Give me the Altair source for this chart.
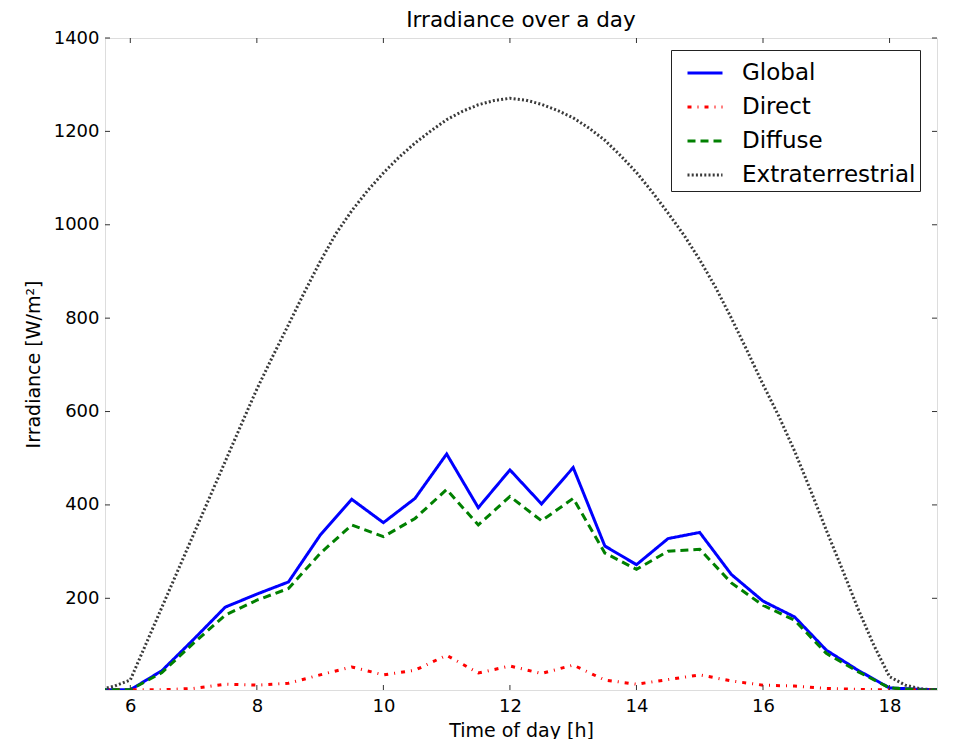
import altair as alt
import pandas as pd

# ---------------- data ----------------
hours_half = [5.5, 6.0, 6.5, 7.0, 7.5, 8.0, 8.5, 9.0, 9.5, 10.0, 10.5, 11.0, 11.5, 12.0,
              12.5, 13.0, 13.5, 14.0, 14.5, 15.0, 15.5, 16.0, 16.5, 17.0, 17.5, 18.0, 18.5, 19.0]

global_vals = [4, 4, 45, 112, 181, 209, 235, 335, 412, 362, 414, 509, 394, 475,
               402, 480, 312, 272, 328, 341, 251, 194, 160, 89, 46, 8, 5, 4]

direct_vals = [4, 4, 4, 7, 16, 14, 18, 36, 53, 36, 46, 78, 40, 55,
               39, 57, 25, 16, 26, 36, 23, 14, 12, 7, 5, 4, 4, 4]

diffuse_vals = [4, 4, 41, 104, 164, 196, 221, 296, 357, 332, 371, 433, 357, 418,
                366, 414, 297, 262, 301, 305, 233, 185, 153, 82, 43, 8, 4, 4]

hours_quarter = [5.5, 5.75, 6.0, 6.25, 6.5, 6.75, 7.0, 7.25, 7.5, 7.75, 8.0, 8.25, 8.5, 8.75,
                 9.0, 9.25, 9.5, 9.75, 10.0, 10.25, 10.5, 10.75, 11.0, 11.25, 11.5, 11.75,
                 12.0, 12.25, 12.5, 12.75, 13.0, 13.25, 13.5, 13.75, 14.0, 14.25, 14.5, 14.75,
                 15.0, 15.25, 15.5, 15.75, 16.0, 16.25, 16.5, 16.75, 17.0, 17.25, 17.5, 17.75,
                 18.0, 18.25, 18.5, 18.75, 19.0]

extra_vals = [4, 12, 25, 103, 181, 259, 337, 415, 493, 571, 648, 718, 786, 855,
              921, 981, 1030, 1073, 1111, 1145, 1175, 1201, 1225, 1243, 1257, 1266,
              1271, 1267, 1258, 1245, 1229, 1207, 1181, 1148, 1112, 1070, 1025, 978,
              925, 866, 800, 730, 658, 590, 515, 432, 346, 263, 178, 100,
              32, 14, 6, 4, 4]

series_names = ["Global", "Direct", "Diffuse", "Extraterrestrial"]
series_colors = ["#0000ff", "#ff0000", "#008000", "#3a3a3a"]
series_dashes = [[1, 0], [4, 6, 1, 6], [8, 5], [2, 2.2]]
series_widths = [3, 3, 3, 2.5]

x_ticks = [6, 8, 10, 12, 14, 16, 18]
y_ticks = [200, 400, 600, 800, 1000, 1200, 1400]

# ---------------- build table ----------------
rows = []
for h, v in zip(hours_half, global_vals):
    rows.append({"hour": h, "value": v, "series": "Global"})
for h, v in zip(hours_half, direct_vals):
    rows.append({"hour": h, "value": v, "series": "Direct"})
for h, v in zip(hours_half, diffuse_vals):
    rows.append({"hour": h, "value": v, "series": "Diffuse"})
for h, v in zip(hours_quarter, extra_vals):
    rows.append({"hour": h, "value": v, "series": "Extraterrestrial"})
df = pd.DataFrame(rows)

W, H = 832, 652
FONT = "DejaVu Sans"

xscale = alt.Scale(domain=[5.6, 18.75], nice=False, zero=False)
yscale = alt.Scale(domain=[3.6, 1400], nice=False, zero=False)

legend = alt.Legend(
    orient="none", legendX=566, legendY=12, title=None,
    symbolType="stroke", symbolSize=1225, symbolStrokeWidth=3,
    labelFontSize=23, labelFont=FONT, labelColor="#000000", labelOffset=18,
    labelLimit=400,
    symbolOffset=11, padding=4, rowPadding=3,
    strokeColor="#222222", fillColor="#ffffff", cornerRadius=0,
)

color_enc = alt.Color("series:N", scale=alt.Scale(domain=series_names, range=series_colors),
                      legend=legend)
dash_enc = alt.StrokeDash("series:N", scale=alt.Scale(domain=series_names, range=series_dashes),
                          legend=legend)
width_enc = alt.StrokeWidth("series:N", scale=alt.Scale(domain=series_names, range=series_widths),
                            legend=None)

x_enc = alt.X("hour:Q", scale=xscale,
              axis=alt.Axis(values=x_ticks, format="d", tickSize=0, domain=False, grid=False,
                            labelFontSize=18, labelFont=FONT, labelColor="#000000", labelPadding=7,
                            title="Time of day [h]", titleFont=FONT, titleFontSize=19,
                            titleFontWeight="normal", titleColor="#000000", titlePadding=6))
y_enc = alt.Y("value:Q", scale=yscale,
              axis=alt.Axis(values=y_ticks, format="d", tickSize=0, domain=False, grid=False,
                            labelFontSize=18, labelFont=FONT, labelColor="#000000", labelPadding=6,
                            title="Irradiance [W/m²]", titleFont=FONT, titleFontSize=19,
                            titleFontWeight="normal", titleColor="#000000", titlePadding=10))

base = alt.Chart(df)
layers = []
for name in series_names:
    layers.append(
        base.transform_filter(alt.datum.series == name)
        .mark_line(clip=True, strokeCap="butt", strokeJoin="miter")
        .encode(x=x_enc, y=y_enc, color=color_enc, strokeDash=dash_enc, strokeWidth=width_enc)
    )

# inward ticks on all four sides
xt = pd.DataFrame({"t": x_ticks})
yt = pd.DataFrame({"t": y_ticks})
tick_color = "#333333"
bottom_ticks = alt.Chart(xt).mark_rule(color=tick_color, strokeWidth=1).encode(
    x=alt.X("t:Q", scale=xscale), y=alt.value(H), y2=alt.value(H - 5))
top_ticks = alt.Chart(xt).mark_rule(color=tick_color, strokeWidth=1).encode(
    x=alt.X("t:Q", scale=xscale), y=alt.value(0), y2=alt.value(5))
left_ticks = alt.Chart(yt).mark_rule(color=tick_color, strokeWidth=1).encode(
    y=alt.Y("t:Q", scale=yscale), x=alt.value(0), x2=alt.value(5))
right_ticks = alt.Chart(yt).mark_rule(color=tick_color, strokeWidth=1).encode(
    y=alt.Y("t:Q", scale=yscale), x=alt.value(W), x2=alt.value(W - 5))

chart = alt.layer(*layers, bottom_ticks, top_ticks, left_ticks, right_ticks).properties(
    width=W, height=H,
    title=alt.TitleParams("Irradiance over a day", font=FONT, fontSize=21.5,
                          fontWeight="normal", color="#000000", anchor="middle",
                          frame="group", offset=7, dy=9),
    autosize=alt.AutoSizeParams(type="none"),
    padding={"left": 97, "top": 30, "right": 10, "bottom": 49},
).configure_view(stroke="#222222", strokeWidth=1.3).configure(background="#ffffff")

chart.save("out.html", embed_options={"renderer": "svg", "actions": False})
